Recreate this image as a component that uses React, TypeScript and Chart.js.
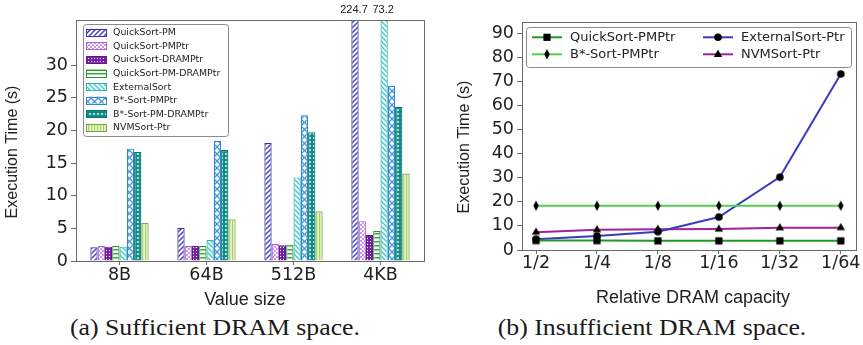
import React, { useEffect, useRef } from 'react';
import { Chart, registerables } from 'chart.js';

Chart.register(...registerables);

// ---------- Data: (a) Sufficient DRAM space ----------
const valueSizes = ['8B', '64B', '512B', '4KB'];
const barSeriesLabels = [
  'QuickSort-PM',
  'QuickSort-PMPtr',
  'QuickSort-DRAMPtr',
  'QuickSort-PM-DRAMPtr',
  'ExternalSort',
  'B*-Sort-PMPtr',
  'B*-Sort-PM-DRAMPtr',
  'NVMSort-Ptr',
];
const quickSortPM = [2.1, 5.1, 18.1, 224.7];
const quickSortPMPtr = [2.3, 2.3, 2.6, 6.1];
const quickSortDRAMPtr = [2.2, 2.3, 2.4, 4.0];
const quickSortPMDRAMPtr = [2.3, 2.3, 2.5, 4.6];
const externalSort = [2.2, 3.2, 12.8, 73.2];
const bSortPMPtr = [17.2, 18.4, 22.3, 26.8];
const bSortPMDRAMPtr = [16.7, 17.0, 19.7, 23.6];
const nvmSortPtr = [5.8, 6.4, 7.6, 13.4];
const barYTicks = [0, 5, 10, 15, 20, 25, 30];
const barYMax = 36.9;

// ---------- Data: (b) Insufficient DRAM space ----------
const dramCapacities = ['1/2', '1/4', '1/8', '1/16', '1/32', '1/64'];
const lineSeriesLabels = ['QuickSort-PMPtr', 'B*-Sort-PMPtr', 'ExternalSort-Ptr', 'NVMSort-Ptr'];
const lineQuickSortPMPtr = [3.9, 3.9, 3.8, 3.8, 3.8, 3.8];
const lineBSortPMPtr = [18.4, 18.4, 18.4, 18.4, 18.4, 18.4];
const lineExternalSortPtr = [4.5, 5.8, 7.6, 13.7, 30.3, 73.2];
const lineNVMSortPtr = [7.4, 8.4, 8.6, 8.7, 9.2, 9.3];
const lineYTicks = [0, 10, 20, 30, 40, 50, 60, 70, 80, 90];
const lineYMax = 94.8;

// ---------- Styles ----------
const barStyles = [
  { color: '#453dc4', border: '#3a33a8', kind: 'diag', bg: '#ffffff' },
  { color: '#bf72e6', border: '#ad62d6', kind: 'dots', bg: '#ffffff' },
  { color: '#7420a2', border: '#631a8c', kind: 'grid', bg: '#ffffff' },
  { color: '#36aa40', border: '#2a9434', kind: 'hlines', bg: '#ffffff' },
  { color: '#3fcbcc', border: '#2fb3b5', kind: 'back', bg: '#ffffff' },
  { color: '#4399de', border: '#3584cc', kind: 'cross', bg: '#ffffff' },
  { color: '#0f8e88', border: '#0a7772', kind: 'circles', bg: '#ffffff' },
  { color: '#a3d466', border: '#7aa346', kind: 'vlines', bg: '#e5f4cb' },
];
const lineStyles = [
  { color: '#1f9a22', marker: 'square' },
  { color: '#4ed24e', marker: 'thinDiamond' },
  { color: '#3a3ac0', marker: 'circle' },
  { color: '#a0229c', marker: 'triangle' },
];

const TICK_FONT = { family: '"DejaVu Sans", sans-serif', size: 17.5 };
const TEXT_COLOR = '#222222';
const AXIS_COLOR = '#6a6a6a';

function makePattern(kind: string, color: string, bg: string): any {
  const sizes: Record<string, number> = {
    diag: 5, back: 5, cross: 7, dots: 4, grid: 3, hlines: 4, circles: 4, vlines: 3,
  };
  const s = sizes[kind] || 5;
  const c = document.createElement('canvas');
  c.width = s;
  c.height = s;
  const ctx = c.getContext('2d')!;
  ctx.fillStyle = bg;
  ctx.fillRect(0, 0, s, s);
  ctx.strokeStyle = color;
  ctx.fillStyle = color;
  ctx.lineWidth = 1.45;
  const line = (x1: number, y1: number, x2: number, y2: number) => {
    ctx.beginPath();
    ctx.moveTo(x1, y1);
    ctx.lineTo(x2, y2);
    ctx.stroke();
  };
  const slash = () => {
    line(-1, s + 1, s + 1, -1);
    line(-1, 1, 1, -1);
    line(s - 1, s + 1, s + 1, s - 1);
  };
  const backslash = () => {
    line(-1, -1, s + 1, s + 1);
    line(s - 1, -1, s + 1, 1);
    line(-1, s - 1, 1, s + 1);
  };
  switch (kind) {
    case 'diag':
      slash();
      break;
    case 'back':
      backslash();
      break;
    case 'cross':
      ctx.lineWidth = 1.3;
      slash();
      backslash();
      break;
    case 'dots':
      ctx.beginPath();
      ctx.arc(1, 1, 1.0, 0, Math.PI * 2);
      ctx.arc(3, 3, 1.0, 0, Math.PI * 2);
      ctx.fill();
      break;
    case 'grid':
      ctx.fillRect(0, 0, s, s);
      ctx.fillStyle = '#ffffff';
      ctx.fillRect(1, 1, 1, 1);
      break;
    case 'hlines':
      ctx.fillRect(0, 1, s, 1.5);
      break;
    case 'circles':
      ctx.fillRect(0, 0, s, s);
      ctx.fillStyle = '#ffffff';
      ctx.beginPath();
      ctx.arc(2, 2, 0.9, 0, Math.PI * 2);
      ctx.fill();
      break;
    case 'vlines':
      ctx.fillRect(1, 0, 1.2, s);
      break;
  }
  return ctx.createPattern(c, 'repeat');
}

function drawMarkerShape(ctx: CanvasRenderingContext2D, kind: string, x: number, y: number) {
  ctx.fillStyle = '#000';
  ctx.beginPath();
  switch (kind) {
    case 'square':
      ctx.rect(x - 3.6, y - 3.6, 7.2, 7.2);
      break;
    case 'circle':
      ctx.arc(x, y, 3.8, 0, Math.PI * 2);
      break;
    case 'triangle':
      ctx.moveTo(x, y - 4.8);
      ctx.lineTo(x + 4.2, y + 2.6);
      ctx.lineTo(x - 4.2, y + 2.6);
      ctx.closePath();
      break;
    case 'thinDiamond':
      ctx.moveTo(x, y - 5.2);
      ctx.lineTo(x + 2.7, y);
      ctx.lineTo(x, y + 5.2);
      ctx.lineTo(x - 2.7, y);
      ctx.closePath();
      break;
  }
  ctx.fill();
}

function makeMarkerCanvas(kind: string): HTMLCanvasElement {
  const c = document.createElement('canvas');
  c.width = 14;
  c.height = 14;
  const ctx = c.getContext('2d')!;
  drawMarkerShape(ctx, kind, 7, 7);
  return c;
}

function roundRect(ctx: CanvasRenderingContext2D, x: number, y: number, w: number, h: number, r: number) {
  ctx.beginPath();
  ctx.moveTo(x + r, y);
  ctx.lineTo(x + w - r, y);
  ctx.quadraticCurveTo(x + w, y, x + w, y + r);
  ctx.lineTo(x + w, y + h - r);
  ctx.quadraticCurveTo(x + w, y + h, x + w - r, y + h);
  ctx.lineTo(x + r, y + h);
  ctx.quadraticCurveTo(x, y + h, x, y + h - r);
  ctx.lineTo(x, y + r);
  ctx.quadraticCurveTo(x, y, x + r, y);
  ctx.closePath();
}

// Frame (all four spines)
const framePlugin = {
  id: 'frame',
  afterDraw(chart: any) {
    const { ctx, chartArea } = chart;
    ctx.save();
    ctx.strokeStyle = AXIS_COLOR;
    ctx.lineWidth = 1;
    ctx.strokeRect(
      Math.round(chartArea.left) + 0.5,
      Math.round(chartArea.top) + 0.5,
      Math.round(chartArea.right - chartArea.left),
      Math.round(chartArea.bottom - chartArea.top)
    );
    ctx.restore();
  },
};

// Axis titles drawn at given spots
const axisTitlePlugin = {
  id: 'axisTitles',
  afterDraw(chart: any, _args: any, opts: any) {
    const items = (opts && opts.items) || [];
    const ctx = chart.ctx;
    items.forEach((it: any) => {
      ctx.save();
      ctx.font = it.font;
      ctx.fillStyle = TEXT_COLOR;
      ctx.textAlign = 'center';
      ctx.textBaseline = 'middle';
      ctx.translate(it.x, it.y);
      if (it.rotate) ctx.rotate(-Math.PI / 2);
      ctx.fillText(it.text, 0, 0);
      ctx.restore();
    });
  },
};

// Value labels for bars that exceed the y range
const overflowLabelPlugin = {
  id: 'overflowLabels',
  afterDatasetsDraw(chart: any) {
    const yScale = chart.scales.y;
    const ctx = chart.ctx;
    ctx.save();
    ctx.font = '11px "Liberation Sans", sans-serif';
    ctx.fillStyle = TEXT_COLOR;
    ctx.textAlign = 'center';
    ctx.textBaseline = 'middle';
    chart.data.datasets.forEach((ds: any, di: number) => {
      const meta = chart.getDatasetMeta(di);
      ds.data.forEach((v: number, i: number) => {
        if (v > yScale.max) {
          const el = meta.data[i];
          ctx.fillText(v.toFixed(1), el.x - 1, chart.chartArea.top - 10);
        }
      });
    });
    ctx.restore();
  },
};

// Framed legend inside the plot
const boxLegendPlugin = {
  id: 'boxLegend',
  afterDraw(chart: any, _args: any, o: any) {
    if (!o || !o.box) return;
    const ctx = chart.ctx;
    ctx.save();
    roundRect(ctx, o.box.x + 0.5, o.box.y + 0.5, o.box.w, o.box.h, 3);
    ctx.fillStyle = 'rgba(255,255,255,0.85)';
    ctx.fill();
    ctx.strokeStyle = '#8a8a8a';
    ctx.lineWidth = 1;
    ctx.stroke();
    ctx.font = o.font;
    ctx.textBaseline = 'middle';
    ctx.textAlign = 'left';
    chart.data.datasets.forEach((ds: any, i: number) => {
      const col = Math.floor(i / o.rows);
      const row = i % o.rows;
      const y = o.rowY + row * o.rowStep;
      const sx = o.colX[col];
      if (o.type === 'patch') {
        ctx.fillStyle = ds.backgroundColor;
        ctx.fillRect(sx, y - 3.5, o.swatchW, 7);
        ctx.strokeStyle = ds.borderColor;
        ctx.lineWidth = 1;
        ctx.strokeRect(sx + 0.5, Math.round(y - 3.5) + 0.5, o.swatchW, 7);
      } else {
        ctx.strokeStyle = ds.borderColor;
        ctx.lineWidth = 2;
        ctx.beginPath();
        ctx.moveTo(sx, y);
        ctx.lineTo(sx + o.swatchW, y);
        ctx.stroke();
        drawMarkerShape(ctx, ds.markerKind, sx + o.swatchW / 2, y);
      }
      ctx.fillStyle = TEXT_COLOR;
      ctx.fillText(ds.label, sx + o.textGap, y + 0.5);
    });
    ctx.restore();
  },
};

function BarPanel() {
  const ref = useRef<HTMLCanvasElement | null>(null);
  useEffect(() => {
    if (!ref.current) return;
    const seriesValues = [
      quickSortPM, quickSortPMPtr, quickSortDRAMPtr, quickSortPMDRAMPtr,
      externalSort, bSortPMPtr, bSortPMDRAMPtr, nvmSortPtr,
    ];
    const datasets = seriesValues.map((vals, i) => ({
      label: barSeriesLabels[i],
      data: vals,
      backgroundColor: makePattern(barStyles[i].kind, barStyles[i].color, barStyles[i].bg),
      borderColor: barStyles[i].border,
      borderWidth: 1.2,
      borderSkipped: 'bottom',
      categoryPercentage: 0.67,
      barPercentage: 1.0,
    }));
    const chart = new Chart(ref.current, {
      type: 'bar',
      data: { labels: valueSizes, datasets },
      options: {
        animation: false,
        responsive: false,
        maintainAspectRatio: false,
        layout: { padding: { top: 20, right: 16, left: 0, bottom: 0 } },
        plugins: {
          legend: { display: false },
          tooltip: { enabled: false },
          title: { display: false },
          axisTitles: {
            items: [
              { text: 'Execution Time (s)', x: 13, y: 152, rotate: true, font: '16px "Liberation Sans", sans-serif' },
              { text: 'Value size', x: 245, y: 300, rotate: false, font: '18px "Liberation Sans", sans-serif' },
            ],
          },
          boxLegend: {
            type: 'patch',
            box: { x: 83, y: 24, w: 145, h: 112 },
            rows: 8,
            rowY: 32.3,
            rowStep: 13.57,
            colX: [86],
            swatchW: 20,
            textGap: 27,
            font: '9.4px "DejaVu Sans", sans-serif',
          },
        } as any,
        scales: {
          x: {
            type: 'category',
            offset: true,
            grid: { display: true, drawOnChartArea: false, offset: false, tickLength: 4, color: AXIS_COLOR },
            border: { display: true, color: AXIS_COLOR },
            ticks: { font: TICK_FONT, color: TEXT_COLOR, padding: 0, maxRotation: 0, autoSkip: false },
            afterFit: (s: any) => {
              s.height = 49;
              s.paddingLeft = 0;
              s.paddingRight = 0;
            },
          },
          y: {
            type: 'linear',
            min: 0,
            max: barYMax,
            afterBuildTicks: (s: any) => {
              s.ticks = barYTicks.map((v) => ({ value: v }));
            },
            grid: { display: true, drawOnChartArea: false, tickLength: 5, color: AXIS_COLOR },
            border: { display: true, color: AXIS_COLOR },
            ticks: { font: TICK_FONT, color: TEXT_COLOR, padding: 3 },
            afterFit: (s: any) => {
              s.width = 76;
              s.paddingTop = 0;
              s.paddingBottom = 0;
            },
          },
        },
      },
      plugins: [framePlugin, axisTitlePlugin, overflowLabelPlugin, boxLegendPlugin],
    });
    return () => chart.destroy();
  }, []);
  return <canvas ref={ref} width={440} height={310} style={{ position: 'absolute', left: 0, top: 0, width: 440, height: 310 }} />;
}

function LinePanel() {
  const ref = useRef<HTMLCanvasElement | null>(null);
  useEffect(() => {
    if (!ref.current) return;
    const seriesValues = [lineQuickSortPMPtr, lineBSortPMPtr, lineExternalSortPtr, lineNVMSortPtr];
    const datasets = seriesValues.map((vals, i) => ({
      label: lineSeriesLabels[i],
      data: vals.map((v, j) => ({ x: j, y: v })),
      borderColor: lineStyles[i].color,
      backgroundColor: lineStyles[i].color,
      borderWidth: 2,
      pointStyle: makeMarkerCanvas(lineStyles[i].marker),
      pointRadius: 5,
      markerKind: lineStyles[i].marker,
      tension: 0,
      fill: false,
      clip: false,
    }));
    const chart = new Chart(ref.current, {
      type: 'line',
      data: { datasets } as any,
      options: {
        animation: false,
        responsive: false,
        maintainAspectRatio: false,
        layout: { padding: { top: 22, right: 6, left: 0, bottom: 0 } },
        plugins: {
          legend: { display: false },
          tooltip: { enabled: false },
          title: { display: false },
          axisTitles: {
            items: [
              { text: 'Execution Time (s)', x: 25, y: 147, rotate: true, font: '16px "Liberation Sans", sans-serif' },
              { text: 'Relative DRAM capacity', x: 253, y: 298, rotate: false, font: '18px "Liberation Sans", sans-serif' },
            ],
          },
          boxLegend: {
            type: 'line',
            box: { x: 86, y: 27, w: 325, h: 40 },
            rows: 2,
            rowY: 37.3,
            rowStep: 17,
            colX: [92, 263],
            swatchW: 30,
            textGap: 38,
            font: '13px "DejaVu Sans", sans-serif',
          },
        } as any,
        scales: {
          x: {
            type: 'linear',
            min: -0.23,
            max: 5.25,
            afterBuildTicks: (s: any) => {
              s.ticks = dramCapacities.map((_, i) => ({ value: i }));
            },
            grid: { display: true, drawOnChartArea: false, tickLength: 4, color: AXIS_COLOR },
            border: { display: true, color: AXIS_COLOR },
            ticks: {
              font: TICK_FONT,
              color: TEXT_COLOR,
              padding: -1,
              maxRotation: 0,
              autoSkip: false,
              callback: (value: any) => dramCapacities[Math.round(Number(value))] ?? '',
            },
            afterFit: (s: any) => {
              s.height = 60;
              s.paddingLeft = 0;
              s.paddingRight = 0;
            },
          },
          y: {
            type: 'linear',
            min: 0,
            max: lineYMax,
            afterBuildTicks: (s: any) => {
              s.ticks = lineYTicks.map((v) => ({ value: v }));
            },
            grid: { display: true, drawOnChartArea: false, tickLength: 5, color: AXIS_COLOR },
            border: { display: true, color: AXIS_COLOR },
            ticks: { font: TICK_FONT, color: TEXT_COLOR, padding: 3 },
            afterFit: (s: any) => {
              s.width = 82;
              s.paddingTop = 0;
              s.paddingBottom = 0;
            },
          },
        },
      },
      plugins: [framePlugin, axisTitlePlugin, boxLegendPlugin],
    });
    return () => chart.destroy();
  }, []);
  return <canvas ref={ref} width={423} height={310} style={{ position: 'absolute', left: 440, top: 0, width: 423, height: 310 }} />;
}

const captionStyle: React.CSSProperties = {
  position: 'absolute',
  top: 316,
  fontFamily: '"Liberation Serif", "DejaVu Serif", serif',
  fontSize: 23,
  lineHeight: '23px',
  color: '#1a1a1a',
  whiteSpace: 'nowrap',
  transform: 'translateX(-50%) scaleX(1.12)',
};

export default function App() {
  return (
    <div style={{ position: 'absolute', left: 0, top: 0, width: 863, height: 345, background: '#fff', overflow: 'hidden' }}>
      <BarPanel />
      <LinePanel />
      <div style={{ ...captionStyle, left: 215 }}>(a) Sufficient DRAM space.</div>
      <div style={{ ...captionStyle, left: 652 }}>(b) Insufficient DRAM space.</div>
    </div>
  );
}
